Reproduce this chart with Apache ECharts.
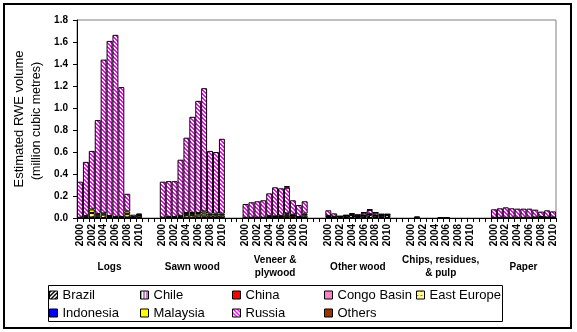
<!DOCTYPE html>
<html>
<head>
<meta charset="utf-8">
<script src="https://cdn.jsdelivr.net/npm/echarts@6/dist/echarts.min.js"></script>
<style>
  html, body { margin: 0; padding: 0; background: #fff; }
  #chart { width: 577px; height: 332px; }
</style>
</head>
<body>
<div id="chart"></div>
<script>
// Years shown within each product block
const years = ['2000','2001','2002','2003','2004','2005','2006','2007','2008','2009','2010'];
// Product blocks along the category axis
const products = ['Logs', 'Sawn wood', 'Veneer &\nplywood', 'Other wood', 'Chips, residues,\n& pulp', 'Paper'];
// Value axis ticks (million cubic metres)
const yTicks = [0.0, 0.2, 0.4, 0.6, 0.8, 1.0, 1.2, 1.4, 1.6, 1.8];

// Estimated RWE volume by source region; each row = one product, 2000..2010
const brazil = [
  0, 0, 0, 0, 0, 0, 0, 0, 0, 0, 0,
  0, 0, 0, 0, 0, 0, 0, 0, 0, 0, 0,
  0, 0, 0, 0, 0, 0, 0, 0, 0, 0, 0,
  0, 0, 0.012, 0.02, 0.025, 0.015, 0.02, 0.03, 0.02, 0.02, 0.025,
  0, 0, 0, 0, 0, 0.001, 0.001, 0, 0, 0, 0,
  0, 0, 0, 0, 0, 0, 0, 0, 0, 0, 0
];
const chile = [
  0, 0, 0, 0, 0, 0, 0, 0, 0, 0, 0,
  0, 0, 0, 0, 0, 0, 0, 0, 0, 0, 0,
  0, 0, 0, 0, 0, 0, 0, 0, 0, 0, 0,
  0, 0, 0, 0, 0, 0, 0, 0, 0, 0, 0,
  0, 0, 0, 0, 0, 0, 0, 0, 0, 0, 0,
  0, 0, 0, 0, 0, 0, 0, 0, 0, 0, 0
];
const china = [
  0, 0, 0.005, 0, 0, 0, 0, 0, 0.005, 0, 0.004,
  0, 0, 0, 0, 0.003, 0.003, 0.005, 0.015, 0.005, 0.005, 0.005,
  0, 0, 0, 0, 0.003, 0.005, 0.008, 0.02, 0.02, 0.005, 0.005,
  0.008, 0.002, 0, 0, 0, 0, 0, 0, 0, 0, 0,
  0, 0, 0, 0, 0, 0, 0, 0, 0, 0, 0,
  0, 0, 0, 0, 0, 0, 0, 0, 0, 0, 0
];
const congoBasin = [
  0, 0, 0, 0, 0, 0, 0, 0, 0, 0, 0,
  0, 0, 0, 0, 0, 0, 0, 0, 0, 0, 0,
  0, 0, 0, 0, 0, 0, 0, 0, 0, 0, 0,
  0, 0, 0, 0, 0, 0, 0, 0, 0, 0, 0,
  0, 0, 0, 0, 0, 0, 0, 0, 0, 0, 0,
  0, 0, 0, 0, 0, 0, 0, 0, 0, 0, 0
];
const eastEurope = [
  0.003, 0.015, 0.04, 0.02, 0.03, 0.012, 0.006, 0.006, 0.03, 0.005, 0.018,
  0.003, 0.006, 0.006, 0.012, 0.025, 0.025, 0.025, 0.025, 0.02, 0.02, 0.02,
  0.002, 0.003, 0.003, 0.003, 0.01, 0.005, 0.006, 0.012, 0.005, 0.003, 0.02,
  0.008, 0.006, 0.002, 0.002, 0.003, 0.002, 0.003, 0.004, 0.003, 0.002, 0.003,
  0, 0.002, 0, 0, 0, 0, 0, 0, 0, 0, 0,
  0.002, 0.002, 0.002, 0.002, 0.002, 0.002, 0.002, 0.003, 0.005, 0.003, 0.003
];
const indonesia = [
  0, 0, 0, 0, 0, 0, 0, 0, 0, 0, 0,
  0, 0, 0, 0, 0, 0, 0, 0, 0, 0, 0,
  0, 0, 0, 0, 0, 0, 0, 0, 0, 0, 0,
  0, 0, 0, 0, 0, 0, 0, 0, 0, 0, 0,
  0, 0, 0, 0, 0, 0, 0, 0, 0, 0, 0,
  0, 0, 0, 0, 0, 0, 0, 0, 0, 0, 0
];
const malaysia = [
  0, 0.005, 0.033, 0.015, 0.012, 0.006, 0.004, 0.004, 0.025, 0.003, 0.005,
  0, 0.004, 0.004, 0.008, 0.017, 0.017, 0.015, 0.02, 0.015, 0.015, 0.015,
  0, 0, 0, 0, 0.007, 0.005, 0.006, 0.01, 0.005, 0.002, 0.015,
  0.004, 0.004, 0, 0, 0, 0, 0, 0, 0, 0, 0,
  0, 0, 0, 0, 0, 0, 0, 0, 0, 0, 0,
  0, 0, 0, 0, 0, 0, 0, 0.002, 0.004, 0.002, 0.002
];
const russia = [
  0.327, 0.49, 0.532, 0.855, 1.398, 1.592, 1.655, 1.18, 0.16, 0.022, 0.003,
  0.327, 0.325, 0.325, 0.51, 0.685, 0.875, 1.02, 1.12, 0.57, 0.56, 0.68,
  0.125, 0.14, 0.149, 0.158, 0.204, 0.264, 0.25, 0.233, 0.131, 0.108, 0.112,
  0.05, 0.03, 0, 0, 0.017, 0.01, 0.025, 0.04, 0.025, 0.01, 0.004,
  0, 0.013, 0, 0, 0, 0.003, 0.003, 0, 0, 0, 0,
  0.077, 0.086, 0.095, 0.086, 0.083, 0.083, 0.083, 0.071, 0.049, 0.065, 0.055
];
const others = [
  0, 0, 0, 0, 0, 0, 0, 0, 0, 0, 0.01,
  0, 0, 0, 0, 0, 0, 0, 0, 0, 0, 0,
  0, 0, 0, 0, 0, 0, 0, 0.015, 0, 0, 0,
  0, 0, 0.004, 0.005, 0, 0.003, 0.004, 0.005, 0.004, 0.004, 0.004,
  0, 0, 0, 0, 0, 0, 0, 0, 0, 0, 0,
  0, 0, 0, 0, 0, 0, 0, 0, 0, 0, 0
];

const FONT = '"Liberation Sans", Arial, sans-serif';
const GAP_SLOTS = 3;

// ---- fill patterns (small repeating tiles) ----
function tile(w, h, paint) {
  const c = document.createElement('canvas');
  c.width = w; c.height = h;
  const ctx = c.getContext('2d');
  for (let y = 0; y < h; y++) {
    for (let x = 0; x < w; x++) {
      ctx.fillStyle = paint(x, y);
      ctx.fillRect(x, y, 1, 1);
    }
  }
  return { image: c, repeat: 'repeat' };
}
const fills = {
  'Brazil': tile(4, 4, (x, y) => ((x + y) % 4 < 2 ? '#000000' : '#ffffff')),
  'Chile': tile(3, 1, (x) => (x === 0 ? '#800080' : '#ffffff')),
  'China': '#ff0000',
  'Congo Basin': tile(2, 2, (x, y) => ((x + y) % 2 === 0 ? '#ff3399' : '#ffccee')),
  'East Europe': tile(4, 4, (x, y) => (y === 0 && x < 2 ? '#cc6600' : '#ffff99')),
  'Indonesia': '#0000ff',
  'Malaysia': '#ffff00',
  'Russia': tile(4, 4, (x, y) => ((((x - y) % 4) + 4) % 4 < 2 ? '#ff00ff' : '#ffffff')),
  'Others': '#993300'
};

const seriesDefs = [
  ['Brazil', brazil], ['Chile', chile], ['China', china], ['Congo Basin', congoBasin],
  ['East Europe', eastEurope], ['Indonesia', indonesia], ['Malaysia', malaysia],
  ['Russia', russia], ['Others', others]
];

// Category keys: one per year in each product block, blank slots between blocks
const categories = [];
products.forEach((p, i) => {
  years.forEach(y => categories.push(i + '|' + y));
  if (i < products.length - 1) {
    for (let g = 0; g < GAP_SLOTS; g++) categories.push('gap' + i + '_' + g);
  }
});

function spread(values) {
  const out = [];
  products.forEach((p, i) => {
    values.slice(i * years.length, (i + 1) * years.length)
      .forEach(v => out.push(v === 0 ? null : v));
    if (i < products.length - 1) {
      for (let g = 0; g < GAP_SLOTS; g++) out.push(null);
    }
  });
  return out;
}

const chart = echarts.init(document.getElementById('chart'), null, { renderer: 'canvas' });

const legendColumns = [
  ['Brazil', 'Indonesia'], ['Chile', 'Malaysia'], ['China', 'Russia'],
  ['Congo Basin', 'Others'], ['East Europe']
];
const legendLefts = [49, 140, 232, 324, 416];

chart.setOption({
  animation: false,
  backgroundColor: '#ffffff',
  textStyle: { fontFamily: FONT },
  grid: {
    left: 77, right: 21, top: 20, bottom: 114,
    show: true, borderColor: '#808080', borderWidth: 1,
    containLabel: false, outerBoundsMode: 'none'
  },
  legend: legendColumns.map((col, k) => ({
    data: col,
    orient: 'vertical',
    left: legendLefts[k],
    top: 288.5,
    padding: 0,
    itemGap: 5,
    itemWidth: 8,
    itemHeight: 8,
    icon: 'rect',
    selectedMode: false,
    itemStyle: { borderColor: '#000', borderWidth: 1 },
    textStyle: { fontSize: 13, lineHeight: 13, color: '#000', fontFamily: FONT }
  })),
  xAxis: {
    type: 'category',
    data: categories,
    boundaryGap: true,
    axisLine: { lineStyle: { color: '#000', width: 1 } },
    axisTick: { show: true, interval: 0, length: 4, inside: false, lineStyle: { color: '#000' } },
    axisLabel: {
      interval: 0,
      rotate: 90,
      margin: 6,
      fontSize: 10,
      fontWeight: 'bold',
      color: '#000',
      fontFamily: FONT,
      formatter: v => {
        const y = v.split('|')[1];
        return y && (+y) % 2 === 0 ? y : '';
      }
    },
    splitLine: { show: false }
  },
  yAxis: {
    type: 'value',
    min: yTicks[0],
    max: yTicks[yTicks.length - 1],
    interval: 0.2,
    axisLine: { show: true, lineStyle: { color: '#000', width: 1 } },
    axisTick: { show: true, length: 4, lineStyle: { color: '#000' } },
    axisLabel: {
      margin: 9,
      fontSize: 10,
      fontWeight: 'bold',
      color: '#000',
      fontFamily: FONT,
      formatter: v => v.toFixed(1)
    },
    splitLine: { show: false }
  },
  series: seriesDefs.map(([name, vals]) => ({
    name,
    type: 'bar',
    stack: 'volume',
    barCategoryGap: 0,
    barGap: 0,
    data: spread(vals),
    itemStyle: { color: fills[name], borderColor: '#000', borderWidth: 1 },
    emphasis: { disabled: true }
  }))
});

// Product labels centred under each block, plus frame, legend box and axis title
const graphics = [
  { type: 'rect', shape: { x: 4, y: 4, width: 567, height: 324 }, style: { fill: 'none', stroke: '#000', lineWidth: 2 }, silent: true },
  { type: 'rect', shape: { x: 48.5, y: 285.5, width: 454, height: 36 }, style: { fill: 'none', stroke: '#000', lineWidth: 1 }, silent: true, z: -1 },
  { type: 'text', x: 19, y: 119, rotation: Math.PI / 2,
    style: { text: 'Estimated RWE volume', font: '13px ' + FONT, fill: '#000', textAlign: 'center', textVerticalAlign: 'middle' } },
  { type: 'text', x: 37, y: 121, rotation: Math.PI / 2,
    style: { text: '(million cubic metres)', font: '12.5px ' + FONT, fill: '#000', textAlign: 'center', textVerticalAlign: 'middle' } }
];
products.forEach((p, i) => {
  const a = chart.convertToPixel({ xAxisIndex: 0 }, i + '|' + years[0]);
  const b = chart.convertToPixel({ xAxisIndex: 0 }, i + '|' + years[years.length - 1]);
  graphics.push({
    type: 'text', x: (a + b) / 2, y: 267,
    style: { text: p, font: 'bold 10px ' + FONT, fill: '#000', textAlign: 'center', textVerticalAlign: 'middle', lineHeight: 13 }
  });
});
chart.setOption({ graphic: graphics });
</script>
</body>
</html>
